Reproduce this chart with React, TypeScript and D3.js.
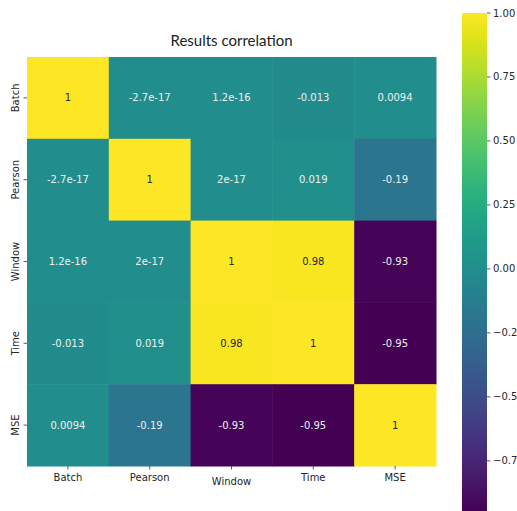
import React from "react";
import * as d3 from "d3";

const variables = ["Batch", "Pearson", "Window", "Time", "MSE"];
const batchRow = [1, -2.7e-17, 1.2e-16, -0.013, 0.0094];
const pearsonRow = [-2.7e-17, 1, 2e-17, 0.019, -0.19];
const windowRow = [1.2e-16, 2e-17, 1, 0.98, -0.93];
const timeRow = [-0.013, 0.019, 0.98, 1, -0.95];
const mseRow = [0.0094, -0.19, -0.93, -0.95, 1];
const colorTicks = [-0.75, -0.5, -0.25, 0, 0.25, 0.5, 0.75, 1];

const matrix = [batchRow, pearsonRow, windowRow, timeRow, mseRow];

const width = 517;
const height = 511;
const margin = { top: 57, left: 27 };
const plotSize = 409;

const tickFont = "DejaVu Sans, sans-serif";

const annot = d3
  .formatLocale({ decimal: ".", thousands: ",", grouping: [3], currency: ["$", ""], minus: "-" })
  .format(".2~g");
const cbFormat = d3.format(".2f");

const App = () => {
  const x = d3.scaleBand(variables, [margin.left, margin.left + plotSize]);
  const y = d3.scaleBand(variables, [margin.top, margin.top + plotSize]);

  const vmin = d3.min(matrix.flat()) as number;
  const vmax = d3.max(matrix.flat()) as number;
  const color = d3.scaleSequential(d3.interpolateViridis).domain([vmin, vmax]);

  const cbX = 462;
  const cbW = 25;
  const cb = d3.scaleLinear([vmin, vmax], [512, 13]);
  const stops = d3.range(0, 1.0001, 0.05);

  const cells = matrix.flatMap((row, i) =>
    row.map((v, j) => ({ row: variables[i], col: variables[j], v }))
  );

  return (
    <svg
      width={width}
      height={height}
      style={{ position: "absolute", left: 0, top: 0, background: "white" }}
    >
      <defs>
        <linearGradient id="cbar" x1="0" y1="1" x2="0" y2="0">
          {stops.map((t) => (
            <stop key={t} offset={t} stopColor={d3.interpolateViridis(t)} />
          ))}
        </linearGradient>
      </defs>

      <text
        x={margin.left + plotSize / 2}
        y={46}
        textAnchor="middle"
        fontFamily="Lato, sans-serif"
        fontSize={15}
        fill="#222"
      >
        Results correlation
      </text>

      <g>
        {cells.map((c) => (
          <rect
            key={c.row + c.col}
            x={x(c.col)}
            y={y(c.row)}
            width={x.bandwidth() + 0.5}
            height={y.bandwidth() + 0.5}
            fill={color(c.v)}
          />
        ))}
      </g>

      <g fontFamily={tickFont} fontSize={10} textAnchor="middle">
        {cells.map((c) => (
          <text
            key={"t" + c.row + c.col}
            x={(x(c.col) as number) + x.bandwidth() / 2}
            y={(y(c.row) as number) + y.bandwidth() / 2}
            dy="0.35em"
            fill={c.v > 0.5 ? "#262626" : "#f0f0f0"}
          >
            {annot(c.v)}
          </text>
        ))}
      </g>

      <g fontFamily={tickFont} fontSize={10} fill="#262626">
        {variables.map((v) => {
          const cx = (x(v) as number) + x.bandwidth() / 2;
          const yb = margin.top + plotSize;
          return (
            <g key={"x" + v}>
              <line x1={cx} x2={cx} y1={yb} y2={yb + 3.5} stroke="#333" strokeWidth={0.8} />
              <text x={cx} y={yb + 15 + (v === "Window" ? 4 : 0)} textAnchor="middle">
                {v}
              </text>
            </g>
          );
        })}
        {variables.map((v) => {
          const cy = (y(v) as number) + y.bandwidth() / 2;
          return (
            <g key={"y" + v}>
              <line
                x1={margin.left - 3.5}
                x2={margin.left}
                y1={cy}
                y2={cy}
                stroke="#333"
                strokeWidth={0.8}
              />
              <text
                transform={`translate(${margin.left - 8},${cy}) rotate(-90)`}
                textAnchor="middle"
              >
                {v}
              </text>
            </g>
          );
        })}
      </g>

      <rect x={cbX} y={cb(vmax)} width={cbW} height={cb(vmin) - cb(vmax)} fill="url(#cbar)" />

      <g fontFamily={tickFont} fontSize={10} fill="#262626">
        {colorTicks.map((t) => (
          <g key={"c" + t}>
            <line
              x1={cbX + cbW}
              x2={cbX + cbW + 3.5}
              y1={cb(t)}
              y2={cb(t)}
              stroke="#333"
              strokeWidth={0.8}
            />
            <text x={cbX + cbW + 6} y={cb(t)} dy="0.35em">
              {cbFormat(t)}
            </text>
          </g>
        ))}
      </g>
    </svg>
  );
};

export default App;
